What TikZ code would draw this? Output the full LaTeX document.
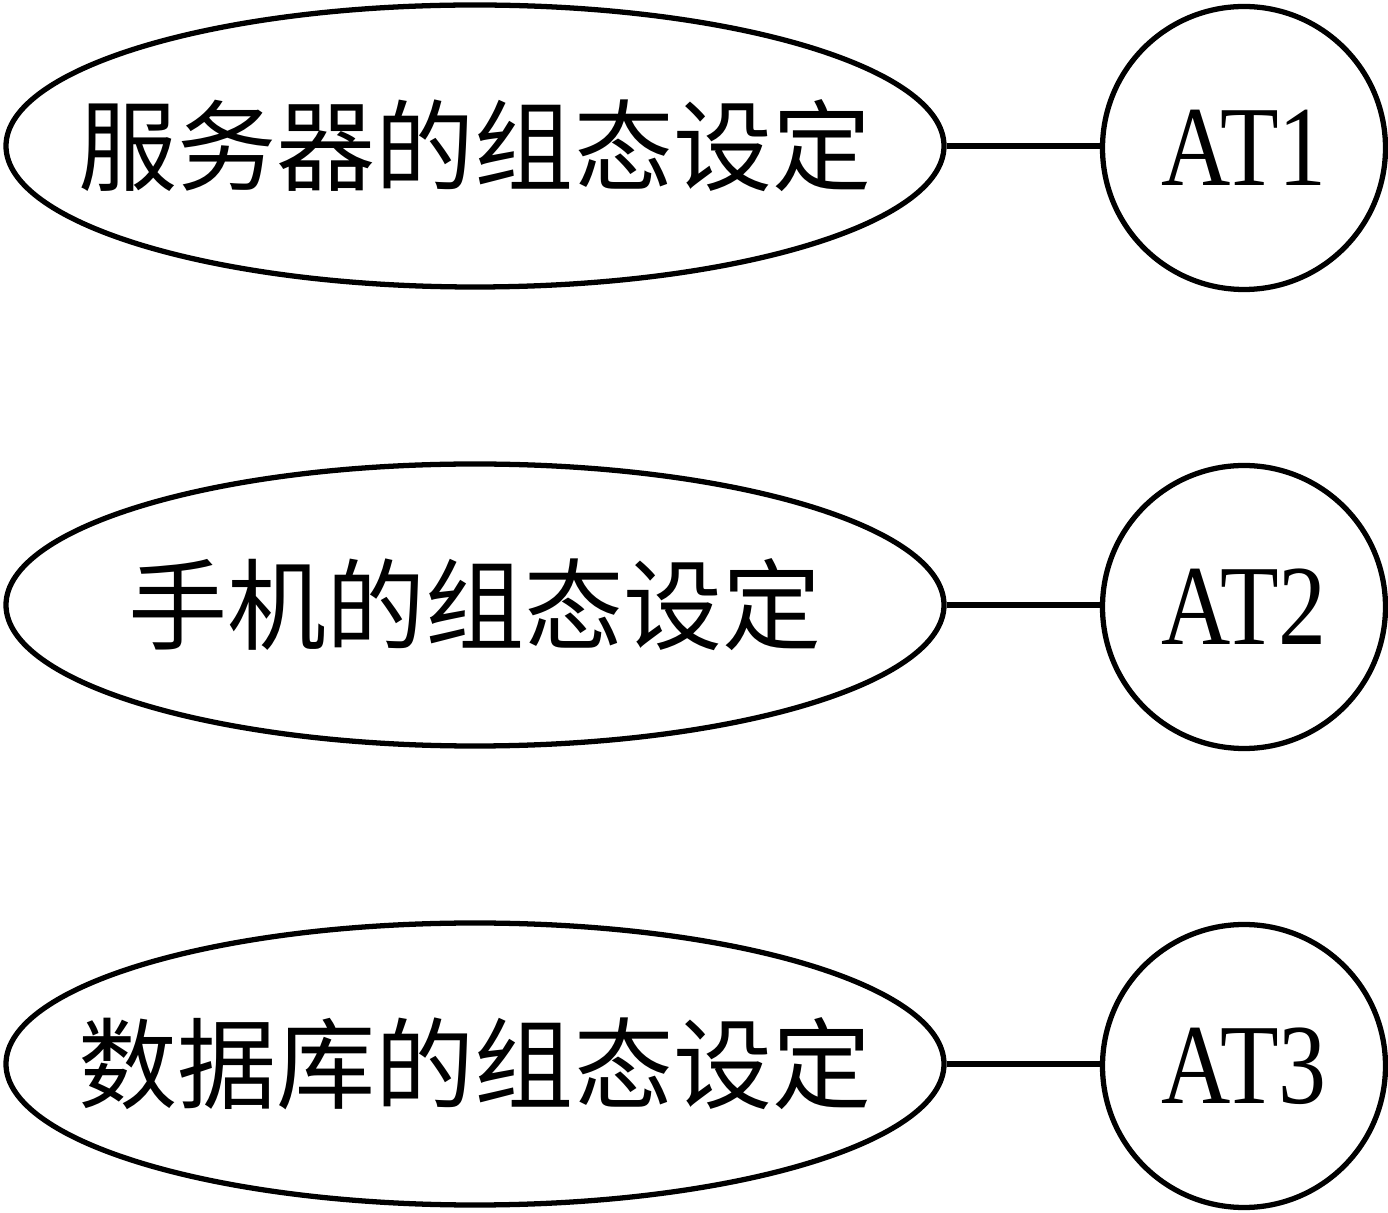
\documentclass[tikz,border=0pt]{standalone}
\usepackage{fontspec}
\setmainfont{Liberation Serif}
\newfontfamily\cjk{Noto Sans CJK SC}
\usetikzlibrary{shapes.geometric}
\tikzset{
  ell/.style={draw, line width=1.5pt, ellipse, inner sep=0pt, minimum width=9.38cm, minimum height=2.82cm},
  circ/.style={draw, line width=1.5pt, circle, inner sep=0pt, minimum size=2.83cm,
    font=\fontsize{32.5pt}{32.5pt}\selectfont},
  lab/.style={inner sep=0pt, font=\cjk\fontsize{28.2pt}{28.2pt}\selectfont},
  conn/.style={line width=1.5pt}
}
\newcommand{\atlab}[1]{\scalebox{0.84}[1]{#1}}
\begin{document}
\begin{tikzpicture}
\useasboundingbox (0,0) rectangle (13.88,-12.13);
% row 1
\node[ell] (e1) at (4.75,-1.46) {};
\node[lab] (t1) at (e1.center) {服务器的组态设定};
\node[circ] (c1) at (12.44,-1.48) {\atlab{AT1}};
\draw[conn] (e1.east) -- (e1.east -| c1.west);
% row 2
\node[ell] (e2) at (4.75,-6.05) {};
\node[lab] (t2) at (e2.center) {手机的组态设定};
\node[circ] (c2) at (12.44,-6.07) {\atlab{AT2}};
\draw[conn] (e2.east) -- (e2.east -| c2.west);
% row 3
\node[ell] (e3) at (4.75,-10.64) {};
\node[lab] (t3) at (e3.center) {数据库的组态设定};
\node[circ] (c3) at (12.44,-10.66) {\atlab{AT3}};
\draw[conn] (e3.east) -- (e3.east -| c3.west);
\end{tikzpicture}
\end{document}
